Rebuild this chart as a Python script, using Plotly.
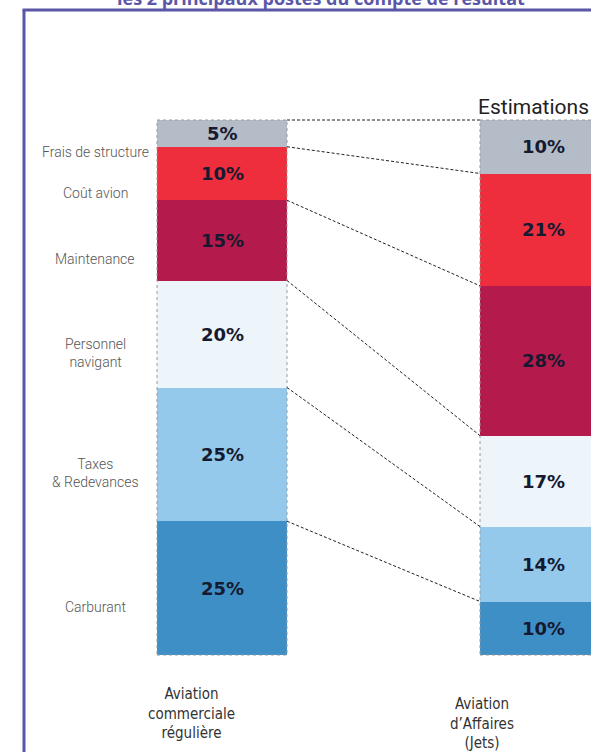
import plotly.graph_objects as go

# ---------------- data ----------------
categories = ["Aviation<br>commerciale<br>régulière", "Aviation<br>d’Affaires<br>(Jets)"]
postes = ["Carburant", "Taxes<br>& Redevances", "Personnel<br>navigant",
          "Maintenance", "Coût avion", "Frais de structure"]          # bottom -> top
commerciale = [25, 25, 20, 15, 10, 5]
affaires = [10, 14, 17, 28, 21, 10]
colors = ["#3f8fc7", "#94c9ec", "#edf4fa", "#b41a4b", "#ee2e3d", "#b4bcc8"]
title_text = "les 2 principaux postes du compte de résultat"
estim_text = "Estimations"

# ---------------- layout constants ----------------
W, H = 591, 752
PX_PER_UNIT_Y = 5.35          # pixels per percentage point
Y0_PX = 655                   # pixel row of value 0
PX_PER_UNIT_X = 323           # pixels between the two bars
X0_PX = 222                   # pixel column of first bar centre
BAR_W = 130 / PX_PER_UNIT_X

def ypx(p):   # pixel -> data
    return (Y0_PX - p) / PX_PER_UNIT_Y

def xpx(p):
    return (p - X0_PX) / PX_PER_UNIT_X

xpos = list(range(len(categories)))
series = [commerciale, affaires]

fig = go.Figure()
for i, name in enumerate(postes):
    fig.add_trace(go.Bar(
        x=xpos, y=[commerciale[i], affaires[i]], name=name.replace("<br>", " "),
        marker=dict(color=colors[i], line=dict(width=0)),
        width=BAR_W, showlegend=False, hoverinfo="skip"))

annotations = []
shapes = []

# percentage labels (segment centres)
for s_idx, vals in enumerate(series):
    cum = 0
    for v in vals:
        annotations.append(dict(
            x=xpos[s_idx] - 0.005 * s_idx, y=cum + v / 2, xref="x", yref="y", text=f"{v}%",
            showarrow=False, font=dict(family="DejaVu Sans", size=18, color="#161a30", weight="bold")))
        cum += v

# category labels on the left (offset below segment centre)
cum = 0
for name, v in zip(postes, commerciale):
    annotations.append(dict(
        x=xpx(95), y=cum + v / 2 - 19 / PX_PER_UNIT_Y, xref="x", yref="y", text=name,
        showarrow=False, align="center",
        font=dict(family="Roboto", size=14, color="#555555", weight=300)))
    cum += v

# bar outlines (dotted)
for s_idx, vals in enumerate(series):
    shapes.append(dict(type="rect", xref="x", yref="y",
                       x0=xpos[s_idx] - BAR_W / 2, x1=xpos[s_idx] + BAR_W / 2,
                       y0=0, y1=sum(vals), line=dict(color="#9a9a9a", width=1, dash="dot"),
                       fillcolor="rgba(0,0,0,0)", layer="above"))

# connecting lines between cumulative boundaries
cl, cr = 0, 0
for vl, vr in zip(commerciale, affaires):
    cl += vl
    cr += vr
    shapes.append(dict(type="line", xref="x", yref="y",
                       x0=xpos[0] + BAR_W / 2, y0=cl, x1=xpos[1] - BAR_W / 2, y1=cr,
                       line=dict(color="#222222", width=1, dash="3px,2px")))

# bottom category names
bottom_font = dict(family="Liberation Sans Narrow, DejaVu Sans Condensed, Roboto", size=15,
                   color="#333333")
annotations.append(dict(x=xpx(191), y=ypx(713), xref="x", yref="y", text=categories[0],
                        showarrow=False, align="center", font=bottom_font))
annotations.append(dict(x=xpx(482), y=ypx(723), xref="x", yref="y", text=categories[1],
                        showarrow=False, align="center", font=bottom_font))

# "Estimations"
annotations.append(dict(x=1.0, y=1 - 107 / H, xref="paper", yref="paper", text=estim_text,
                        xanchor="right", yanchor="middle", showarrow=False,
                        font=dict(family="Roboto", size=21, color="#222222")))

# title (cut off at top, as in the source image)
annotations.append(dict(x=321 / W, y=1 + 2 / H, xref="paper", yref="paper", text=f"<b>{title_text}</b>",
                        xanchor="center", yanchor="middle", showarrow=False,
                        font=dict(family="Open Sans", size=18, color="#5b57a8")))

# purple frame
fx = 24 / W
fy = 1 - 10 / H
shapes.append(dict(type="line", xref="paper", yref="paper", x0=fx, y0=0, x1=fx, y1=fy,
                   line=dict(color="#5b57a8", width=3)))
shapes.append(dict(type="line", xref="paper", yref="paper", x0=fx - 1.5 / W, y0=fy, x1=1, y1=fy,
                   line=dict(color="#5b57a8", width=3)))

fig.update_layout(
    width=W, height=H, margin=dict(l=0, r=0, t=0, b=0),
    paper_bgcolor="white", plot_bgcolor="white",
    barmode="stack", bargap=0,
    xaxis=dict(range=[xpx(0), xpx(W)], visible=False, fixedrange=True),
    yaxis=dict(range=[ypx(H), ypx(0)], visible=False, fixedrange=True),
    annotations=annotations, shapes=shapes,
)

fig.write_html("out.html")
